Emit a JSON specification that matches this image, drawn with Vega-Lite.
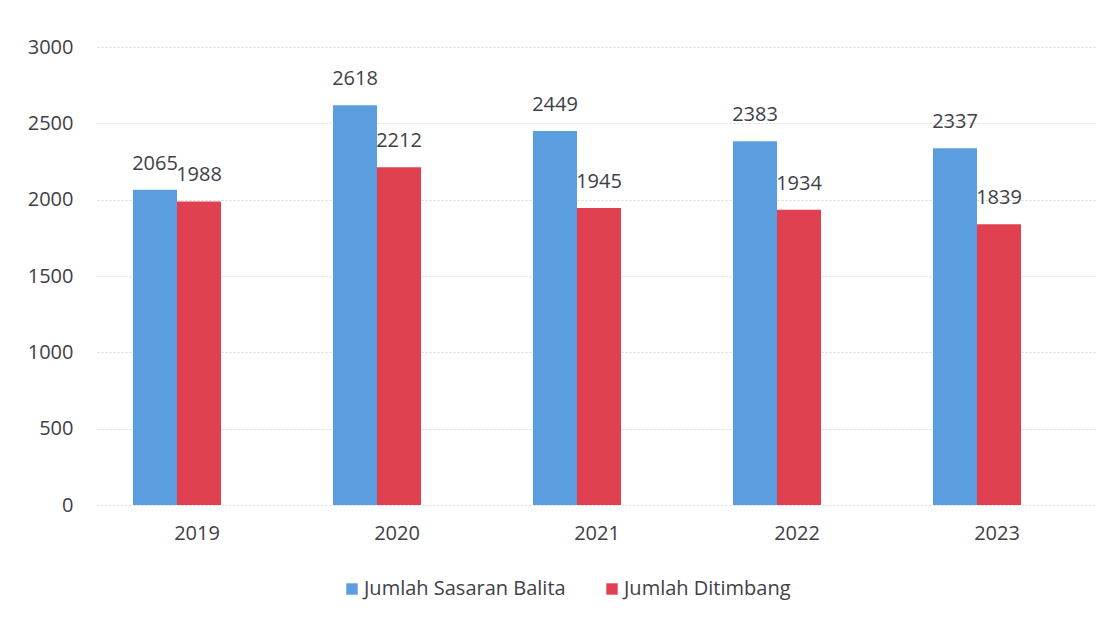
{
  "$schema": "https://vega.github.io/schema/vega-lite/v6.json",
  "autosize": "none",
  "width": 1000,
  "height": 458,
  "padding": {"left": 97, "top": 47, "right": 20, "bottom": 115},
  "background": "white",
  "config": {
    "view": {"stroke": null},
    "font": "Open Sans",
    "axis": {"labelFont": "Open Sans", "labelColor": "#404048", "labelFontSize": 20}
  },
  "data": {
    "values": [
      {"year": "2019", "series": "Jumlah Sasaran Balita", "value": 2065},
      {"year": "2019", "series": "Jumlah Ditimbang", "value": 1988},
      {"year": "2020", "series": "Jumlah Sasaran Balita", "value": 2618},
      {"year": "2020", "series": "Jumlah Ditimbang", "value": 2212},
      {"year": "2021", "series": "Jumlah Sasaran Balita", "value": 2449},
      {"year": "2021", "series": "Jumlah Ditimbang", "value": 1945},
      {"year": "2022", "series": "Jumlah Sasaran Balita", "value": 2383},
      {"year": "2022", "series": "Jumlah Ditimbang", "value": 1934},
      {"year": "2023", "series": "Jumlah Sasaran Balita", "value": 2337},
      {"year": "2023", "series": "Jumlah Ditimbang", "value": 1839}
    ]
  },
  "encoding": {
    "x": {
      "field": "year", "type": "nominal",
      "scale": {"paddingInner": 0, "paddingOuter": 0},
      "axis": {"title": null, "labelAngle": 0, "ticks": false, "domain": false, "labelPadding": 18, "grid": false}
    },
    "xOffset": {
      "field": "series", "type": "nominal",
      "sort": ["Jumlah Sasaran Balita", "Jumlah Ditimbang"],
      "scale": {"range": [36, 124], "paddingInner": 0, "paddingOuter": 0}
    },
    "y": {
      "field": "value", "type": "quantitative",
      "scale": {"domain": [0, 3000]},
      "axis": {"title": null, "format": "d", "values": [0, 500, 1000, 1500, 2000, 2500, 3000], "ticks": false, "domain": false, "labelPadding": 24, "gridColor": "#d8d8d8", "gridWidth": 1, "gridDash": [2, 2]}
    }
  },
  "layer": [
    {
      "mark": {"type": "bar"},
      "encoding": {
        "color": {
          "field": "series", "type": "nominal",
          "sort": ["Jumlah Sasaran Balita", "Jumlah Ditimbang"],
          "scale": {"domain": ["Jumlah Sasaran Balita", "Jumlah Ditimbang"], "range": ["#5b9ee0", "#e0404f"]},
          "legend": {
            "title": null, "orient": "none", "direction": "horizontal",
            "legendX": 245, "legendY": 532,
            "symbolType": "square", "symbolSize": 130, "symbolStrokeWidth": 0,
            "labelFont": "Open Sans", "labelFontSize": 20, "labelColor": "#404048",
            "labelLimit": 400, "columnPadding": 36, "labelOffset": 2
          }
        }
      }
    },
    {
      "mark": {"type": "text", "fontSize": 20, "color": "#404048", "baseline": "middle", "dy": -26, "font": "Open Sans"},
      "encoding": {"text": {"field": "value", "type": "quantitative", "format": "d"}}
    }
  ]
}
